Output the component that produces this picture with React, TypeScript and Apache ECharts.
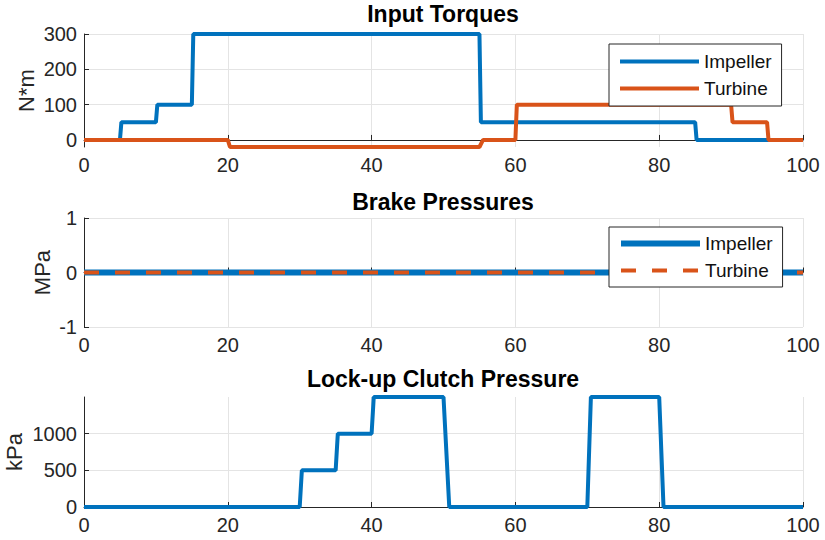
import React, { useEffect, useRef } from "react";
import * as echarts from "echarts";

const FONT = '"Liberation Sans", Arial, Helvetica, sans-serif';
const BLUE = "#0072BD";
const ORANGE = "#D95319";
const AXIS = "#262626";
const GRIDC = "#e4e4e4";

// Input torques (N*m)
const impellerTime = [0, 5, 5.2, 10, 10.2, 15, 15.2, 55, 55.2, 85, 85.2, 100];
const impellerTorque = [0, 0, 50, 50, 100, 100, 300, 300, 50, 50, 0, 0];
const turbineTime = [0, 20, 20.3, 55, 55.5, 60, 60.2, 90, 90.2, 95, 95.2, 100];
const turbineTorque = [0, 0, -20, -20, 0, 0, 100, 100, 50, 50, 0, 0];

// Brake pressures (MPa)
const brakeTime = [0, 100];
const brakeImpeller = [0, 0];
const brakeTurbine = [0, 0];

// Lock-up clutch pressure (kPa)
const clutchTime = [0, 30, 30.3, 35, 35.3, 40, 40.3, 50, 50.8, 70, 70.5, 80, 80.6, 100];
const clutchPressure = [0, 0, 500, 500, 1000, 1000, 1500, 1500, 0, 0, 1500, 1500, 0, 0];

const xTicks = [0, 20, 40, 60, 80, 100];
const torqueTicks = [0, 100, 200, 300];
const clutchTicks = [0, 500, 1000];

const titles = ["Input Torques", "Brake Pressures", "Lock-up Clutch Pressure"];
const yNames = ["N*m", "MPa", "kPa"];

const pairs = (t: number[], v: number[]) => t.map((x, i) => [x, v[i]]);

export default function App() {
  const ref = useRef<HTMLDivElement>(null);
  useEffect(() => {
    if (!ref.current) return;
    const chart = echarts.init(ref.current, null, { renderer: "svg" });
    const grids = [
      { left: 84, width: 719, top: 34, height: 113, outerBoundsMode: "none", containLabel: false },
      { left: 84, width: 719, top: 218, height: 109, outerBoundsMode: "none", containLabel: false },
      { left: 84, width: 719, top: 397, height: 110, outerBoundsMode: "none", containLabel: false },
    ];
    const labelFmt = (v: number) => String(v);
    const xAxisBase = (i: number) => ({
      type: "value",
      gridIndex: i,
      min: xTicks[0],
      max: xTicks[xTicks.length - 1],
      interval: 20,
      axisLine: { show: true, lineStyle: { color: AXIS, width: 1 } },
      axisTick: { show: true, inside: true, length: 5, lineStyle: { color: AXIS } },
      axisLabel: { color: AXIS, fontSize: 20, fontFamily: FONT, margin: 8, formatter: labelFmt },
      splitLine: { show: true, lineStyle: { color: GRIDC, width: 1 } },
    });
    const yAxisBase = (i: number) => ({
      type: "value",
      gridIndex: i,
      name: yNames[i],
      nameLocation: "middle",
      nameRotate: 90,
      nameMoveOverlap: false,
      nameTextStyle: { fontSize: 22, fontFamily: FONT, color: AXIS },
      axisLine: { show: true, lineStyle: { color: AXIS, width: 1 } },
      axisTick: { show: true, inside: true, length: 5, lineStyle: { color: AXIS } },
      axisLabel: { color: AXIS, fontSize: 20, fontFamily: FONT, margin: 7, formatter: labelFmt },
      splitLine: { show: true, lineStyle: { color: GRIDC, width: 1 } },
    });
    const legendBase = (top: number, padTop: number, names: string[], styles: any[]) => ({
      orient: "vertical",
      left: 609,
      top,
      padding: [padTop, 10, padTop, 9],
      itemWidth: 79,
      itemHeight: 14,
      itemGap: 8,
      borderColor: AXIS,
      borderWidth: 1,
      backgroundColor: "#fff",
      selectedMode: false,
      textStyle: { fontSize: 19, fontFamily: FONT, color: "#111" },
      formatter: (n: string) => n.replace(/ \(.*\)$/, ""),
      data: names.map((n, k) => ({
        name: n,
        lineStyle: styles[k],
        itemStyle: { opacity: 0, borderWidth: 0 },
      })),
    });
    const option: any = {
      animation: false,
      backgroundColor: "#fff",
      title: titles.map((t, i) => ({
        text: t,
        left: 443,
        top: [2, 190, 367][i],
        padding: 0,
        textAlign: "center",
        textStyle: { fontSize: 23, fontWeight: "bold", color: "#000", fontFamily: FONT },
      })),
      grid: grids,
      xAxis: [0, 1, 2].map((i) => xAxisBase(i)),
      yAxis: [
        {
          ...yAxisBase(0),
          min: -20,
          max: 300,
          nameGap: 47,
          axisTick: { show: true, inside: true, length: 5, lineStyle: { color: AXIS }, customValues: torqueTicks },
          axisLabel: { color: AXIS, fontSize: 20, fontFamily: FONT, margin: 7, formatter: labelFmt, customValues: torqueTicks },
        },
        { ...yAxisBase(1), min: -1, max: 1, interval: 1, nameGap: 31 },
        {
          ...yAxisBase(2),
          min: 0,
          max: 1500,
          nameGap: 59,
          axisTick: { show: true, inside: true, length: 5, lineStyle: { color: AXIS }, customValues: clutchTicks },
          axisLabel: { color: AXIS, fontSize: 20, fontFamily: FONT, margin: 7, formatter: labelFmt, customValues: clutchTicks },
        },
      ],
      legend: [
        legendBase(44, 8, ["Impeller (torque)", "Turbine (torque)"], [
          { width: 4 },
          { width: 4 },
        ]),
        legendBase(227, 7, ["Impeller (brake)", "Turbine (brake)"], [
          { width: 6 },
          { width: 4, type: [15, 16] },
        ]),
      ],
      series: [
        {
          name: "Impeller (torque)",
          type: "line",
          xAxisIndex: 0,
          yAxisIndex: 0,
          data: pairs(impellerTime, impellerTorque),
          symbol: "none",
          clip: false,
          lineStyle: { color: BLUE, width: 4 },
          itemStyle: { color: BLUE },
        },
        {
          name: "Turbine (torque)",
          type: "line",
          xAxisIndex: 0,
          yAxisIndex: 0,
          data: pairs(turbineTime, turbineTorque),
          symbol: "none",
          clip: false,
          lineStyle: { color: ORANGE, width: 4 },
          itemStyle: { color: ORANGE },
        },
        {
          name: "Impeller (brake)",
          type: "line",
          xAxisIndex: 1,
          yAxisIndex: 1,
          data: pairs(brakeTime, brakeImpeller),
          symbol: "none",
          clip: false,
          lineStyle: { color: BLUE, width: 6 },
          itemStyle: { color: BLUE },
        },
        {
          name: "Turbine (brake)",
          type: "line",
          xAxisIndex: 1,
          yAxisIndex: 1,
          data: pairs(brakeTime, brakeTurbine),
          symbol: "none",
          clip: false,
          lineStyle: { color: ORANGE, width: 4, type: [15, 16] },
          itemStyle: { color: ORANGE },
        },
        {
          name: "Clutch",
          type: "line",
          xAxisIndex: 2,
          yAxisIndex: 2,
          data: pairs(clutchTime, clutchPressure),
          symbol: "none",
          clip: false,
          lineStyle: { color: BLUE, width: 4 },
          itemStyle: { color: BLUE },
        },
      ],
    };
    chart.setOption(option);
    return () => chart.dispose();
  }, []);
  return (
    <div
      ref={ref}
      style={{ position: "fixed", left: 0, top: 0, width: 825, height: 540, background: "#fff" }}
    />
  );
}
